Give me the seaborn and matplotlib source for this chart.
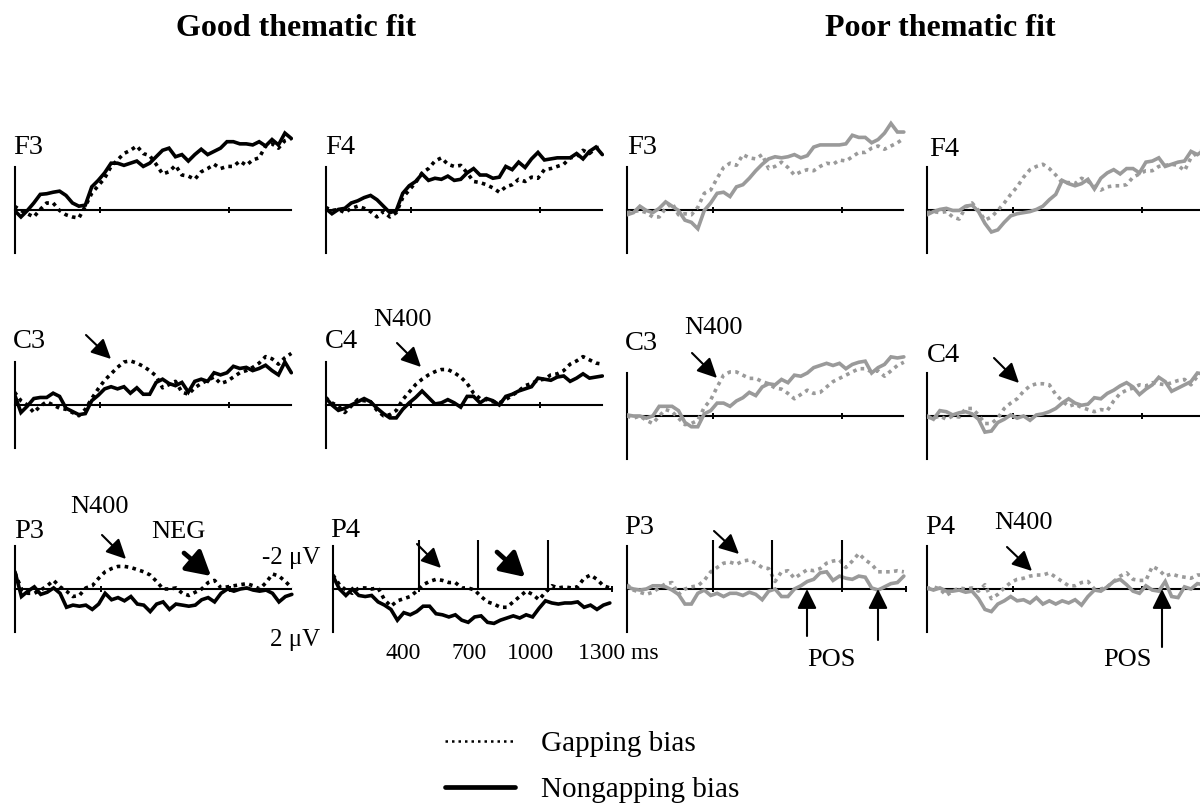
import numpy as np
import matplotlib
matplotlib.use("Agg")
import matplotlib.pyplot as plt
import seaborn as sns
from matplotlib.patches import FancyArrowPatch
from matplotlib.lines import Line2D

# ---------------- data (µV, negative plotted upward) ----------------
time_ms = np.arange(0, 1291, 30)  # 0 .. 1290 ms, 44 samples

# Good thematic fit
f3_good_nongap = [0.0, 0.3, 0.0, -0.35, -0.75, -0.78, -0.85, -0.9, -0.7, -0.35, -0.2,
                  -0.25, -1.1, -1.4, -1.75, -2.2, -2.2, -2.1, -2.2, -2.3, -2.05, -2.2,
                  -2.5, -2.8, -2.9, -2.5, -2.6, -2.3, -2.6, -2.85, -2.6, -2.75, -2.9,
                  -3.2, -3.2, -3.1, -3.1, -3.05, -3.2, -3.0, -3.3, -3.05, -3.6, -3.35]
f3_good_gap = [-0.2, 0.0, 0.15, 0.3, -0.05, -0.35, -0.35, 0.0, 0.2, 0.3, 0.35,
               -0.2, -0.8, -1.15, -1.5, -2.05, -2.35, -2.65, -2.8, -3.0, -2.65, -2.55,
               -2.15, -1.7, -1.8, -2.1, -1.65, -1.6, -1.45, -1.8, -1.95, -2.15, -1.95,
               -2.05, -2.05, -2.3, -2.1, -2.35, -2.45, -3.0, -3.1, -2.9, -3.25, -3.35]
f4_good_nongap = [-0.1, 0.15, -0.05, -0.1, -0.35, -0.45, -0.6, -0.7, -0.5, -0.2, 0.1,
                  0.0, -0.8, -1.15, -1.35, -1.7, -1.4, -1.5, -1.45, -1.6, -1.4, -1.45,
                  -1.75, -1.95, -1.65, -1.65, -1.5, -1.55, -2.05, -1.9, -2.25, -2.0, -2.4,
                  -2.7, -2.35, -2.4, -2.45, -2.45, -2.45, -2.65, -2.4, -2.75, -2.95, -2.6]
f4_good_gap = [-0.15, 0.0, -0.05, 0.1, -0.1, -0.2, -0.1, 0.05, 0.3, 0.05, 0.3,
               0.1, -0.6, -0.95, -1.3, -1.75, -1.95, -2.3, -2.45, -2.15, -2.05, -2.1,
               -1.75, -1.35, -1.3, -1.2, -1.05, -0.85, -1.1, -1.2, -1.45, -1.35, -1.55,
               -1.5, -1.9, -1.95, -2.05, -2.15, -2.45, -2.5, -2.8, -2.65, -2.9, -3.0]
c3_good_nongap = [-0.5, 0.35, 0.05, -0.3, -0.35, -0.35, -0.55, -0.4, 0.15, 0.3, 0.45,
                  0.4, -0.2, -0.45, -0.75, -0.85, -0.75, -0.85, -0.55, -0.8, -0.5, -0.5,
                  -1.05, -1.2, -1.0, -0.9, -1.05, -0.6, -1.1, -1.2, -1.1, -1.5, -1.4,
                  -1.5, -1.8, -1.7, -1.75, -1.6, -1.7, -1.85, -1.6, -1.4, -2.0, -1.5]
c3_good_gap = [-0.6, -0.2, 0.0, 0.35, 0.05, -0.15, 0.0, 0.15, 0.2, 0.35, 0.5,
               0.2, -0.3, -0.75, -1.15, -1.45, -1.75, -2.0, -2.05, -1.95, -1.8, -1.6,
               -1.35, -0.8, -0.95, -1.1, -0.6, -0.5, -0.8, -1.0, -1.15, -1.3, -1.0,
               -1.1, -1.3, -1.5, -1.6, -1.75, -1.95, -2.25, -2.15, -1.9, -2.2, -2.4]
c4_good_nongap = [-0.35, 0.0, 0.25, 0.15, 0.0, -0.15, -0.3, -0.15, 0.15, 0.4, 0.6,
                  0.6, 0.2, -0.1, -0.35, -0.65, -0.35, -0.05, -0.1, -0.25, -0.1, 0.1,
                  -0.4, -0.4, -0.1, -0.3, -0.2, 0.0, -0.4, -0.5, -0.65, -0.75, -0.85,
                  -1.25, -1.2, -1.15, -1.3, -1.35, -1.1, -1.25, -1.45, -1.25, -1.3, -1.35]
c4_good_gap = [-0.35, -0.1, 0.05, 0.35, 0.05, -0.25, -0.2, -0.15, 0.25, 0.5, 0.45,
               0.25, -0.25, -0.6, -0.95, -1.2, -1.4, -1.55, -1.65, -1.65, -1.5, -1.3,
               -1.0, -0.55, -0.3, -0.25, -0.15, -0.1, -0.25, -0.45, -0.65, -0.9, -1.0,
               -1.15, -1.2, -1.4, -1.45, -1.6, -1.9, -2.05, -2.25, -2.1, -1.95, -1.9]
p3_good_nongap = [-0.8, 0.35, 0.1, -0.1, 0.25, 0.15, -0.05, 0.2, 0.85, 0.75, 0.8,
                  0.75, 0.95, 0.7, 0.2, 0.5, 0.4, 0.55, 0.35, 0.7, 0.75, 1.05,
                  0.7, 0.6, 0.95, 0.7, 0.75, 0.8, 0.75, 0.5, 0.4, 0.6, 0.2,
                  0.0, 0.1, 0.0, -0.05, 0.05, 0.1, 0.05, 0.2, 0.6, 0.35, 0.25]
p3_good_gap = [-0.75, 0.0, 0.2, 0.2, 0.05, -0.15, -0.4, -0.1, 0.1, 0.35, 0.3,
               -0.05, -0.15, -0.5, -0.8, -0.95, -1.05, -1.05, -1.0, -0.9, -0.8, -0.65,
               -0.35, 0.0, 0.0, -0.05, 0.2, 0.3, 0.15, 0.0, -0.3, -0.4, -0.05,
               -0.1, -0.15, -0.2, -0.25, -0.15, 0.0, -0.3, -0.7, -0.6, -0.35, -0.05]
p4_good_nongap = [-0.6, 0.0, 0.3, 0.0, 0.3, 0.35, 0.3, 0.6, 0.75, 0.95, 1.45,
                  1.1, 1.2, 1.05, 0.8, 0.8, 1.15, 1.2, 1.3, 1.2, 1.45, 1.55,
                  1.3, 1.25, 1.55, 1.6, 1.45, 1.35, 1.25, 1.35, 1.2, 1.3, 0.9,
                  0.55, 0.65, 0.7, 0.65, 0.65, 0.6, 0.85, 0.75, 0.95, 0.75, 0.65]
p4_good_gap = [-0.65, -0.2, 0.05, 0.2, -0.05, -0.05, 0.0, -0.05, 0.5, 0.8, 0.55,
               0.45, 0.35, 0.1, -0.2, -0.35, -0.45, -0.4, -0.3, -0.3, -0.05, -0.05,
               0.05, 0.35, 0.6, 0.7, 0.85, 0.85, 0.6, 0.35, 0.1, 0.25, 0.5,
               0.15, -0.15, -0.05, -0.1, -0.05, -0.1, -0.5, -0.65, -0.45, -0.15, -0.05]

# Poor thematic fit
f3_poor_nongap = [0.2, 0.1, -0.2, 0.0, 0.1, -0.1, -0.4, -0.2, 0.0, 0.45, 0.55,
                  0.85, 0.0, -0.35, -0.8, -0.85, -0.65, -1.1, -1.2, -1.5, -1.85, -2.15,
                  -2.4, -2.5, -2.45, -2.5, -2.6, -2.45, -2.55, -2.95, -3.05, -3.05, -3.05,
                  -3.05, -3.1, -3.5, -3.4, -3.4, -3.15, -3.3, -3.6, -4.05, -3.65, -3.65]
f3_poor_gap = [0.1, 0.05, 0.0, 0.1, 0.3, 0.3, -0.1, -0.35, 0.2, 0.15, 0.2,
               -0.15, -0.8, -0.95, -1.5, -2.0, -2.2, -2.1, -2.6, -2.45, -2.4, -2.6,
               -1.95, -2.05, -2.25, -2.0, -1.65, -1.8, -1.9, -1.85, -2.05, -2.2, -2.15,
               -2.35, -2.3, -2.5, -2.7, -2.7, -2.9, -3.0, -2.85, -3.0, -3.15, -3.35]
f4_poor_nongap = [0.2, 0.05, -0.05, -0.1, 0.0, 0.0, -0.2, -0.25, 0.05, 0.6, 1.0,
                  0.9, 0.55, 0.25, 0.15, 0.1, 0.05, -0.05, -0.2, -0.5, -0.75, -1.4,
                  -1.25, -1.15, -1.25, -1.45, -1.0, -1.5, -1.75, -1.9, -1.7, -1.95, -1.95,
                  -1.75, -2.25, -2.3, -2.45, -2.05, -2.15, -2.25, -2.3, -2.75, -2.6, -2.8]
f4_poor_gap = [0.1, 0.05, 0.1, 0.05, 0.3, 0.4, -0.15, -0.35, 0.0, 0.45, 0.3,
               0.0, -0.35, -0.75, -1.1, -1.55, -1.9, -2.05, -2.15, -1.95, -1.65, -1.3,
               -1.3, -1.25, -1.5, -1.35, -1.15, -0.95, -1.1, -1.15, -1.15, -1.2, -1.55,
               -1.7, -1.85, -1.85, -2.05, -2.1, -2.15, -2.1, -1.85, -2.45, -2.7, -2.8]
c3_poor_nongap = [-0.05, 0.0, 0.0, 0.1, 0.0, -0.45, -0.45, -0.45, -0.25, 0.3, 0.5,
                  0.5, -0.1, -0.25, -0.6, -0.6, -0.45, -0.7, -0.85, -1.1, -0.95, -1.35,
                  -1.5, -1.45, -1.7, -1.55, -1.9, -1.85, -2.0, -2.25, -2.35, -2.45, -2.35,
                  -2.45, -2.2, -2.4, -2.5, -2.55, -2.0, -2.25, -2.4, -2.75, -2.7, -2.75]
c3_poor_gap = [0.0, 0.1, 0.0, 0.2, 0.35, 0.0, -0.3, -0.2, 0.1, 0.4, 0.35,
               0.2, -0.4, -0.75, -1.35, -1.9, -2.05, -2.05, -1.9, -1.75, -1.75, -1.6,
               -1.5, -1.3, -1.25, -1.05, -0.8, -1.0, -1.2, -1.05, -1.1, -1.35, -1.6,
               -1.75, -1.9, -2.05, -2.2, -2.2, -2.05, -2.1, -1.85, -2.1, -2.35, -2.5]
c4_poor_nongap = [0.0, 0.15, -0.25, -0.2, -0.05, -0.15, -0.2, -0.1, 0.15, 0.75, 0.7,
                  0.3, 0.15, -0.05, 0.1, 0.0, 0.2, -0.05, -0.1, -0.2, -0.35, -0.6,
                  -0.8, -0.6, -0.5, -0.55, -0.85, -0.8, -1.05, -1.2, -1.4, -1.55, -1.35,
                  -1.0, -1.25, -1.45, -1.8, -1.6, -1.15, -1.3, -1.45, -1.6, -2.0, -1.95]
c4_poor_gap = [0.05, 0.1, 0.0, 0.15, 0.0, 0.05, -0.35, -0.35, -0.05, 0.35, 0.35,
               0.1, -0.35, -0.6, -0.8, -1.15, -1.4, -1.5, -1.5, -1.45, -1.0, -0.7,
               -0.45, -0.55, -0.4, -0.3, -0.2, -0.3, -0.25, -0.7, -1.05, -1.2, -1.3,
               -1.45, -1.4, -1.55, -1.5, -1.45, -1.55, -1.65, -1.7, -1.45, -1.85, -1.9]
p3_poor_nongap = [-0.1, 0.0, 0.05, 0.0, -0.15, -0.15, -0.1, 0.05, 0.25, 0.7, 0.7,
                  0.2, 0.05, 0.3, 0.2, 0.35, 0.2, 0.2, 0.3, 0.15, 0.25, 0.5,
                  0.1, 0.0, 0.35, 0.35, 0.0, -0.15, -0.35, -0.45, -0.75, -0.8, -0.4,
                  -0.6, -0.5, -0.45, -0.6, -0.55, -0.05, 0.05, -0.1, -0.25, -0.3, -0.6]
p3_poor_gap = [-0.2, 0.05, 0.15, 0.25, 0.15, -0.05, -0.25, -0.3, 0.25, 0.0, -0.1,
               -0.15, -0.4, -0.8, -1.0, -1.2, -1.25, -1.15, -1.3, -1.35, -1.2, -1.0,
               -0.95, -0.35, -0.8, -0.85, -0.5, -0.7, -0.9, -0.85, -0.95, -1.2, -1.3,
               -1.35, -1.0, -1.3, -1.65, -1.35, -1.15, -0.8, -0.8, -0.8, -0.85, -0.8]
p4_poor_nongap = [-0.05, 0.05, -0.05, 0.1, 0.1, 0.05, 0.15, 0.1, 0.45, 0.95, 1.05,
                  0.7, 0.55, 0.35, 0.55, 0.5, 0.65, 0.4, 0.7, 0.55, 0.7, 0.55,
                  0.65, 0.5, 0.75, 0.35, 0.05, 0.1, -0.1, -0.35, -0.45, -0.2, 0.1,
                  0.2, -0.15, 0.05, 0.1, -0.35, 0.35, 0.4, -0.1, 0.0, -0.25, -0.2]
p4_poor_gap = [0.0, -0.1, 0.0, 0.3, 0.1, -0.05, 0.0, -0.05, 0.1, -0.2, 0.45,
               0.25, -0.05, -0.3, -0.45, -0.5, -0.6, -0.65, -0.65, -0.75, -0.55, -0.35,
               -0.15, -0.15, -0.3, -0.35, 0.0, 0.0, -0.1, -0.35, -0.6, -0.75, -0.45,
               -0.4, -0.4, -1.05, -0.9, -0.6, -0.7, -0.6, -0.55, -0.5, -0.65, -0.65]

window_bounds_ms = [400, 675, 1000]
time_labels = ["400", "700", "1000", "1300 ms"]
titles = ["Good thematic fit", "Poor thematic fit"]
legend_labels = ["Gapping bias", "Nongapping bias"]

# panel: (electrode, nongap, gap, colour key, column, row)
panels = [
    ("F3", f3_good_nongap, f3_good_gap, "good", 0, 0),
    ("F4", f4_good_nongap, f4_good_gap, "good", 1, 0),
    ("F3", f3_poor_nongap, f3_poor_gap, "poor", 2, 0),
    ("F4", f4_poor_nongap, f4_poor_gap, "poor", 3, 0),
    ("C3", c3_good_nongap, c3_good_gap, "good", 0, 1),
    ("C4", c4_good_nongap, c4_good_gap, "good", 1, 1),
    ("C3", c3_poor_nongap, c3_poor_gap, "poor", 2, 1),
    ("C4", c4_poor_nongap, c4_poor_gap, "poor", 3, 1),
    ("P3", p3_good_nongap, p3_good_gap, "good", 0, 2),
    ("P4", p4_good_nongap, p4_good_gap, "good", 1, 2),
    ("P3", p3_poor_nongap, p3_poor_gap, "poor", 2, 2),
    ("P4", p4_poor_nongap, p4_poor_gap, "poor", 3, 2),
]

# ---------------- layout (pixels, origin top-left) ----------------
W, H = 1200, 805
PX_MS = 0.2146
PX_UV = 21.5
Y_TOP, Y_BOT = -4.6, 2.8
origin_x = {(0, 0): 14.5, (1, 0): 325.5, (2, 0): 627, (3, 0): 927,
            (0, 1): 14.5, (1, 1): 325.5, (2, 1): 627, (3, 1): 927,
            (0, 2): 15, (1, 2): 333, (2, 2): 627, (3, 2): 927}
origin_y = {(0, 0): 210.5, (1, 0): 210.5, (2, 0): 210.5, (3, 0): 210.5,
            (0, 1): 405, (1, 1): 405, (2, 1): 416, (3, 1): 416,
            (0, 2): 589, (1, 2): 589, (2, 2): 589, (3, 2): 589}
label_pos = {(0, 0): (13, 148), (1, 0): (325, 148), (2, 0): (627, 148), (3, 0): (929, 149),
             (0, 1): (13, 342), (1, 1): (325, 342), (2, 1): (625, 343), (3, 1): (927, 355),
             (0, 2): (14, 531), (1, 2): (330, 530), (2, 2): (624, 528), (3, 2): (925, 528)}
colors = {"good": "black", "poor": "#9a9a9a"}
DOT = (0, (1.0, 1.2))
LW = 2.6

sns.set_theme(style="white")
plt.rcParams["font.family"] = ["Liberation Serif", "DejaVu Serif"]
plt.rcParams["text.color"] = "black"
plt.rcParams["axes.edgecolor"] = "black"
plt.rcParams["xtick.color"] = "black"

fig = plt.figure(figsize=(W / 100, H / 100), dpi=100)


def fx(x):
    return x / W


def fy(y):
    return 1 - y / H


for name, nongap, gap, fit, col, row in panels:
    x0 = origin_x[(col, row)]
    y0 = origin_y[(col, row)]
    rect = [fx(x0), fy(y0 + Y_BOT * PX_UV), 1300 * PX_MS / W, (Y_BOT - Y_TOP) * PX_UV / H]
    ax = fig.add_axes(rect)
    ax.patch.set_alpha(0)
    c = colors[fit]
    sns.lineplot(x=time_ms, y=nongap, ax=ax, color=c, linewidth=LW,
                 solid_joinstyle="miter", estimator=None, errorbar=None)
    sns.lineplot(x=time_ms, y=gap, ax=ax, color=c, linewidth=LW, linestyle=DOT,
                 dash_capstyle="butt", estimator=None, errorbar=None)
    ax.set_xlim(0, 1300)
    ax.set_ylim(Y_BOT, Y_TOP)
    ax.set_xlabel("")
    ax.set_ylabel("")
    for s in ["top", "right"]:
        ax.spines[s].set_visible(False)
    ax.spines["left"].set_bounds(-2, 2)
    ax.spines["bottom"].set_position(("data", 0))
    special = (col, row) in [(1, 2), (2, 2)]
    ax.spines["bottom"].set_bounds(0, 1300 if special else 1288)
    for s in ["left", "bottom"]:
        ax.spines[s].set_linewidth(1.5)
        ax.spines[s].set_color("black")
        ax.spines[s].set_zorder(1)
    ax.set_yticks([])
    ax.set_xticks([400, 1000, 1300] if special else [400, 1000])
    ax.tick_params(axis="x", direction="inout", length=5, width=1.4,
                   color="black", labelbottom=False, bottom=True)
    if special:
        ax.vlines(window_bounds_ms, 0, -2.3, color="black", lw=1.5)
    lx, ly = label_pos[(col, row)]
    fig.text(fx(lx), fy(ly), name, ha="left", va="center", fontsize=20.5, color="black")

# titles
fig.text(fx(296), fy(28), titles[0], ha="center", va="center", fontsize=23,
         fontweight="bold", color="black")
fig.text(fx(940), fy(28), titles[1], ha="center", va="center", fontsize=23,
         fontweight="bold", color="black")


def note(x, y, s, ha="center", size=19):
    fig.text(fx(x), fy(y), s, ha=ha, va="center", fontsize=size, color="black")


def arrow(x1, y1, x2, y2, thick=False):
    if thick:
        style = "-|>,head_length=0.8,head_width=0.45"
        lw, ms = 3.4, 18
    else:
        style = "-|>,head_length=0.85,head_width=0.42"
        lw, ms = 1.5, 14
    p = FancyArrowPatch((fx(x1), fy(y1)), (fx(x2), fy(y2)), transform=fig.transFigure,
                        arrowstyle=style, mutation_scale=ms, lw=lw, color="black",
                        shrinkA=0, shrinkB=0)
    fig.add_artist(p)


# row 2 annotations
arrow(86, 335, 111, 359)
note(402, 320, "N400")
arrow(397, 343, 421, 367)
note(713, 328, "N400")
arrow(692, 353, 717, 378)
arrow(994, 358, 1019, 383)

# row 3 annotations
note(99, 507, "N400")
arrow(102, 535, 126, 559)
note(178, 532, "NEG")
arrow(184, 553, 211, 576, thick=True)
arrow(417, 544, 441, 568)
arrow(497, 552, 525, 577, thick=True)
note(320, 558, "-2 μV", ha="right", size=18)
note(320, 640, "2 μV", ha="right", size=18)
note(403, 653, time_labels[0], size=17)
note(469, 653, time_labels[1], size=17)
note(530, 653, time_labels[2], size=17)
note(578, 653, time_labels[3], ha="left", size=17)
arrow(714, 531, 739, 554)
arrow(807, 636, 807, 589)
arrow(878, 640, 878, 589)
note(831, 660, "POS")
note(1023, 523, "N400")
arrow(1007, 547, 1032, 571)
arrow(1162, 647, 1162, 589)
note(1127, 660, "POS")

# legend
handles = [Line2D([], [], color="black", lw=1.8, linestyle=(0, (1, 1.6))),
           Line2D([], [], color="black", lw=3.4)]
leg = fig.legend(handles, legend_labels, loc="upper left",
                 bbox_to_anchor=(fx(445), fy(731)), frameon=False, fontsize=21,
                 handlelength=2.4, handletextpad=0.9, labelspacing=0.66,
                 borderpad=0, borderaxespad=0)
for t in leg.get_texts():
    t.set_color("black")

fig.savefig("out.png", dpi=100)
